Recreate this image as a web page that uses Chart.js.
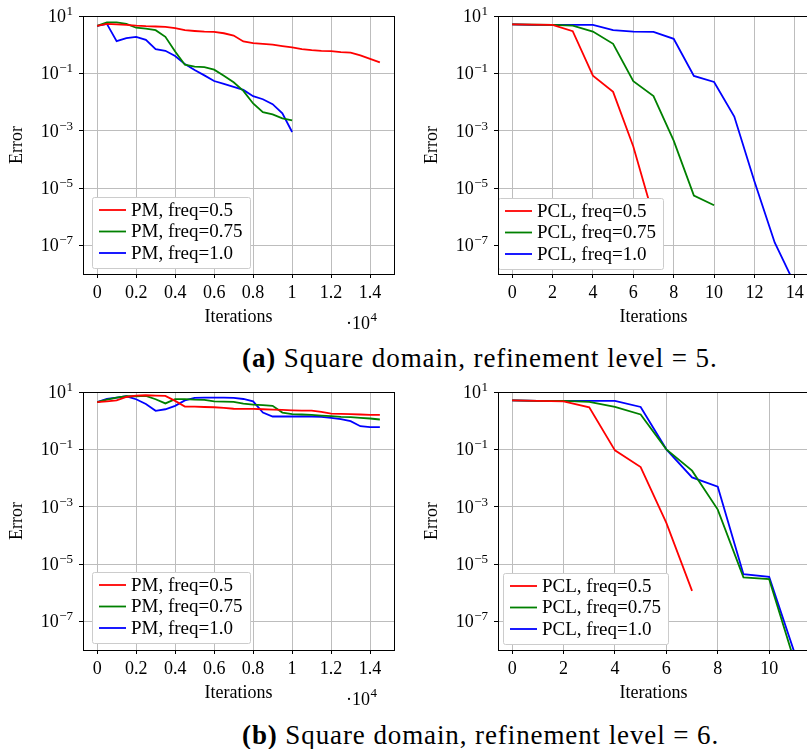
<!DOCTYPE html>
<html>
<head>
<meta charset="utf-8">
<script src="https://cdn.jsdelivr.net/npm/chart.js@4.4.1/dist/chart.umd.min.js"></script>
<style>
  html, body { margin: 0; padding: 0; background: #fff; overflow: hidden; width: 807px; height: 749px; }
  canvas { position: absolute; }
  .cap { position: absolute; font-family: 'Liberation Serif', serif; font-size: 27px; letter-spacing: 0.9px; white-space: nowrap; line-height: 1; color: #000; }
</style>
</head>
<body>
<canvas id="pmA" width="400" height="340" style="left:0;top:0"></canvas>
<canvas id="pclA" width="409" height="340" style="left:400px;top:0"></canvas>
<div class="cap" style="left:242px;top:345px"><b>(a)</b> Square domain, refinement level = 5.</div>
<canvas id="pmB" width="400" height="340" style="left:0;top:376px"></canvas>
<canvas id="pclB" width="409" height="340" style="left:400px;top:376px"></canvas>
<div class="cap" style="left:242px;top:722px"><b>(b)</b> Square domain, refinement level = 6.</div>

<script>
// iterations / steps on the x axis
const pmIterations = [0, 500, 1000, 1500, 2000, 2500, 3000, 3500, 4000, 4500, 5000, 5500, 6000, 6500, 7000,
  7500, 8000, 8500, 9000, 9500, 10000, 10500, 11000, 11500, 12000, 12500, 13000, 13500, 14000, 14500];
const pclSteps = [0, 1, 2, 3, 4, 5, 6, 7, 8, 9, 10, 11, 12, 13, 14];

// tick labels
const yTicks = [1e-7, 1e-5, 1e-3, 1e-1, 10];
const pmTicks = [0, 2000, 4000, 6000, 8000, 10000, 12000, 14000];
const pclTicksA = [0, 2, 4, 6, 8, 10, 12, 14];
const pclTicksB = [0, 2, 4, 6, 8, 10];

// (a) refinement level 5
const pmA_05 = [4.5, 5.3, 5.1, 4.9, 4.6, 4.4, 4.3, 4.2, 3.8, 3.2, 3.0, 2.86, 2.78, 2.5, 2.08,
  1.29, 1.13, 1.07, 1.0, 0.89, 0.80, 0.70, 0.64, 0.61, 0.60, 0.55, 0.53, 0.42, 0.32, 0.24];
const pmA_075 = [4.5, 6.0, 6.0, 5.3, 3.9, 3.6, 3.2, 1.87, 0.58, 0.2, 0.17, 0.165, 0.134, 0.083, 0.049,
  0.0244, 0.0089, 0.0044, 0.0037, 0.0027, 0.0023];
const pmA_10 = [4.5, 5.3, 1.32, 1.68, 1.87, 1.47, 0.70, 0.61, 0.40, 0.21, 0.13, 0.085, 0.054, 0.043, 0.034,
  0.0264, 0.0159, 0.0125, 0.0084, 0.004, 0.0009];
const pclA_05 = [5.1, 5.0, 4.9, 2.94, 0.083, 0.0225, 2.8e-4, 1.0e-6];
const pclA_075 = [5.1, 5.0, 4.9, 4.6, 2.86, 1.07, 0.053, 0.016, 4.5e-4, 5.4e-6, 2.5e-6];
const pclA_10 = [5.1, 4.9, 4.9, 4.9, 4.9, 3.2, 2.86, 2.8, 1.6, 0.081, 0.05, 0.0031, 1.7e-5, 1.26e-7, 4.3e-9];

// (b) refinement level 6
const pmB_05 = [4.4, 4.7, 5.1, 6.7, 7.5, 7.7, 7.5, 7.3, 4.9, 3.1, 3.1, 3.0, 2.94, 2.8, 2.6,
  2.57, 2.57, 2.5, 2.44, 2.37, 2.3, 2.25, 2.25, 2.02, 1.77, 1.73, 1.68, 1.64, 1.6, 1.6];
const pmB_075 = [4.4, 5.4, 6.4, 7.1, 7.1, 7.3, 5.6, 4.0, 5.6, 5.6, 5.4, 5.3, 4.7, 4.6, 4.5,
  3.9, 3.6, 3.5, 3.3, 1.92, 1.68, 1.64, 1.6, 1.5, 1.43, 1.36, 1.32, 1.25, 1.19, 1.10];
const pmB_10 = [4.4, 5.7, 6.4, 7.1, 5.6, 3.8, 2.2, 2.5, 3.3, 5.1, 6.2, 6.4, 6.4, 6.4, 6.2,
  5.7, 4.7, 1.92, 1.4, 1.4, 1.4, 1.4, 1.4, 1.36, 1.25, 1.13, 0.96, 0.64, 0.6, 0.6];
const pclB_05 = [5.1, 4.9, 4.7, 2.9, 0.092, 0.024, 2.7e-4, 1.16e-6];
const pclB_075 = [5.1, 4.9, 4.9, 4.5, 3.0, 1.64, 0.10, 0.018, 7.9e-4, 3.4e-6, 2.95e-6, 3.6e-9];
const pclB_10 = [5.1, 4.9, 4.9, 4.9, 4.9, 3.0, 0.10, 0.0105, 0.005, 4.4e-6, 3.55e-6, 7.4e-9];

const RED = '#ff0000', GREEN = '#008000', BLUE = '#0000ff';
const FONT = "'Liberation Serif', serif";
Chart.defaults.font.family = FONT;
Chart.defaults.color = '#000';

function series(xs, ys, label, color) {
  return {
    label,
    data: ys.map((v, i) => ({ x: xs[i], y: v })),
    borderColor: color,
    borderWidth: 1.8,
    pointRadius: 0,
    tension: 0,
    fill: false
  };
}

// draws the box, the 10^n labels, the legend and the x multiplier
const frame = {
  id: 'frame',
  afterDatasetsDraw(chart, args, opts) {
    const { ctx, chartArea: a } = chart;
    const sets = chart.data.datasets;
    ctx.save();
    ctx.font = '19px ' + FONT;
    const tw = Math.max(...sets.map(d => ctx.measureText(d.label).width));
    const rowH = 21.5;
    const w = 7 + 27 + 5 + tw + 7;
    const h = sets.length * rowH + 6;
    const bx = a.left + opts.dx, by = a.bottom - opts.dy - h;
    ctx.fillStyle = '#fff';
    ctx.strokeStyle = '#cccccc';
    ctx.lineWidth = 1;
    ctx.beginPath();
    ctx.roundRect(Math.round(bx) + 0.5, Math.round(by) + 0.5, Math.round(w), Math.round(h), 2);
    ctx.fill();
    ctx.stroke();
    sets.forEach((d, i) => {
      const cy = by + 13.5 + i * rowH;
      ctx.strokeStyle = d.borderColor;
      ctx.lineWidth = 1.8;
      ctx.beginPath();
      ctx.moveTo(bx + 7, cy);
      ctx.lineTo(bx + 34, cy);
      ctx.stroke();
      ctx.fillStyle = '#000';
      ctx.textAlign = 'left';
      ctx.textBaseline = 'middle';
      ctx.fillText(d.label, bx + 39, cy + 1);
    });
    ctx.restore();
  },
  afterDraw(chart, args, opts) {
    const { ctx, chartArea: a } = chart;
    const ys = chart.scales.y;
    ctx.save();
    ctx.strokeStyle = '#000';
    ctx.lineWidth = 1;
    ctx.strokeRect(Math.round(a.left) + 0.5, Math.round(a.top) + 0.5, Math.round(a.width), Math.round(a.height));
    ctx.fillStyle = '#000';
    ctx.textAlign = 'right';
    ctx.textBaseline = 'alphabetic';
    ys.ticks.forEach(t => {
      const py = ys.getPixelForValue(t.value);
      const e = Math.round(Math.log10(t.value));
      const es = e < 0 ? '\u2212' + (-e) : String(e);
      const xr = ys.right - 10;
      ctx.font = '13px ' + FONT;
      ctx.fillText(es, xr, py - 1);
      const ew = ctx.measureText(es).width;
      ctx.font = '18px ' + FONT;
      ctx.fillText('10', xr - ew - 0.5, py + 6);
    });
    if (opts.mult) {
      const xr = a.right - 17, yb = a.bottom + 55;
      ctx.font = '13px ' + FONT;
      ctx.fillText('4', xr, yb - 8);
      const ew = ctx.measureText('4').width;
      ctx.font = '18px ' + FONT;
      ctx.fillText('\u00b710', xr - ew - 0.5, yb);
    }
    ctx.restore();
  }
};

function makeChart(id, sets, o) {
  return new Chart(document.getElementById(id), {
    type: 'line',
    data: { datasets: sets },
    options: {
      responsive: false,
      animation: false,
      events: [],
      layout: { padding: { top: 16, right: o.padRight, left: 0, bottom: 0 } },
      plugins: {
        legend: { display: false },
        tooltip: { enabled: false },
        frame: { dx: o.dx, dy: o.dy, mult: o.mult }
      },
      scales: {
        x: {
          type: 'linear',
          min: o.xMin,
          max: o.xMax,
          afterBuildTicks: s => { s.ticks = o.xTicks.map(v => ({ value: v })); },
          afterFit: s => { s.height = 66; },
          grid: { color: '#bdbdbd', tickColor: '#000', tickLength: 4 },
          border: { color: '#000', width: 1 },
          ticks: { color: '#000', font: { size: 18 }, padding: 4, maxRotation: 0, autoSkip: false, callback: o.fmt },
          title: { display: true, text: 'Iterations', color: '#000', font: { size: 18 }, padding: { top: 0, bottom: 12 } }
        },
        y: {
          type: 'logarithmic',
          min: 1e-8,
          max: 10,
          afterBuildTicks: s => { s.ticks = yTicks.map(v => ({ value: v })); },
          afterFit: s => { s.width = o.yWidth; },
          grid: { color: '#bdbdbd', tickColor: '#000', tickLength: 4 },
          border: { color: '#000', width: 1 },
          ticks: { display: false },
          title: { display: true, text: 'Error', color: '#000', font: { size: 18 }, padding: { top: o.yTitlePad, bottom: 0 } }
        }
      }
    },
    plugins: [frame]
  });
}

const pmFmt = v => String(+(v / 1e4).toFixed(1));
const intFmt = v => String(v);

makeChart('pmA', [
  series(pmIterations, pmA_05, 'PM, freq=0.5', RED),
  series(pmIterations, pmA_075, 'PM, freq=0.75', GREEN),
  series(pmIterations, pmA_10, 'PM, freq=1.0', BLUE)
], { xMin: -725, xMax: 15225, xTicks: pmTicks, fmt: pmFmt, yWidth: 83, padRight: 6, yTitlePad: 6, dx: 9, dy: 7, mult: true });

makeChart('pclA', [
  series(pclSteps, pclA_05, 'PCL, freq=0.5', RED),
  series(pclSteps, pclA_075, 'PCL, freq=0.75', GREEN),
  series(pclSteps, pclA_10, 'PCL, freq=1.0', BLUE)
], { xMin: -0.7, xMax: 14.7, xTicks: pclTicksA, fmt: intFmt, yWidth: 98, padRight: 0, yTitlePad: 21, dx: 0, dy: 6, mult: false });

makeChart('pmB', [
  series(pmIterations, pmB_05, 'PM, freq=0.5', RED),
  series(pmIterations, pmB_075, 'PM, freq=0.75', GREEN),
  series(pmIterations, pmB_10, 'PM, freq=1.0', BLUE)
], { xMin: -725, xMax: 15225, xTicks: pmTicks, fmt: pmFmt, yWidth: 83, padRight: 6, yTitlePad: 6, dx: 9, dy: 8, mult: true });

makeChart('pclB', [
  series(pclSteps, pclB_05, 'PCL, freq=0.5', RED),
  series(pclSteps, pclB_075, 'PCL, freq=0.75', GREEN),
  series(pclSteps, pclB_10, 'PCL, freq=1.0', BLUE)
], { xMin: -0.55, xMax: 11.55, xTicks: pclTicksB, fmt: intFmt, yWidth: 98, padRight: 0, yTitlePad: 21, dx: 5, dy: 7, mult: false });
</script>
</body>
</html>
